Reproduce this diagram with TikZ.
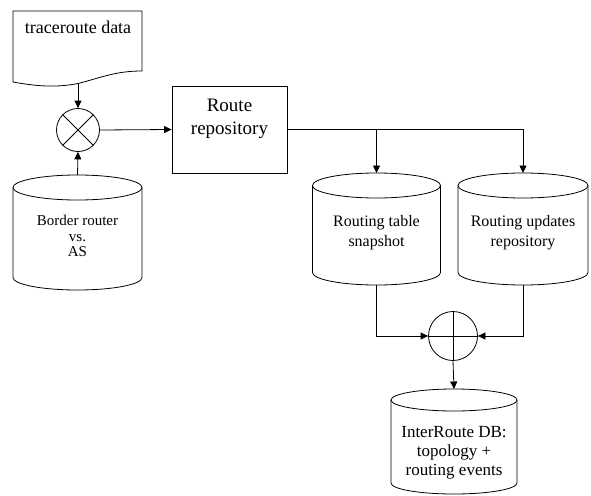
\documentclass[tikz,border=0pt]{standalone}
\usepackage{fontspec}
\setmainfont{Liberation Serif}
\usetikzlibrary{arrows.meta}
\tikzset{
  every path/.style={line width=0.8pt},
  conn/.style={line width=0.8pt,-{Triangle[length=7.5pt,width=7pt]}},
  shapebox/.style={draw,line width=0.8pt,inner sep=0pt},
  hidden/.style={inner sep=0pt,outer sep=0pt},
  lbl/.style={align=center,inner sep=0pt},
}
\newcommand\dbcylinder[3]{%
  \draw ([yshift=-#3]#1.north) ellipse[x radius=#2, y radius=#3];
  \draw ([yshift=-#3]#1.north west) -- ([yshift=#3]#1.south west)
     arc[start angle=180,end angle=360,x radius=#2,y radius=#3]
     -- ([yshift=-#3]#1.north east);
}
\begin{document}
\begin{tikzpicture}[x=1pt,y=-1pt]
\useasboundingbox (0,0) rectangle (591,495);
% document shape
\coordinate (docbot) at (78,83.5);
\draw (13,11) -- (142,11) -- (142,71)
   .. controls (115,71) and (100,78) .. (docbot)
   .. controls (55,88) and (35,86) .. (13,82) -- cycle;
\node[lbl,font=\fontsize{18}{20}\selectfont] (trace) at (78,27.5) {traceroute data};
% join circle (x)
\node[shapebox,circle,minimum size=43pt] (xc) at (78,130) {};
\draw (xc.north east) -- (xc.south west) (xc.north west) -- (xc.south east);
% route repository
\node[shapebox,rectangle,minimum width=115pt,minimum height=87pt] (route) at (229.5,129.5) {};
\node[lbl,font=\fontsize{19}{23}\selectfont] (routetxt) at (229.5,119) {Route\\repository};
% border router cylinder
\node[hidden,minimum width=129pt,minimum height=115pt] (border) at (77.5,232.5) {};
\dbcylinder{border}{64.5pt}{12.5pt}
\node[lbl,font=\fontsize{15}{15.5}\selectfont] (bordertxt) at (77.5,236) {Border router\\vs.\\AS};
% routing table snapshot
\node[hidden,minimum width=128pt,minimum height=112pt] (rts) at (376.5,229) {};
\dbcylinder{rts}{64pt}{12.5pt}
\node[lbl,font=\fontsize{16}{20}\selectfont] (rtstxt) at (376.5,233) {Routing table\\snapshot};
% routing updates repository
\node[hidden,minimum width=130pt,minimum height=112pt] (rur) at (523,229) {};
\dbcylinder{rur}{65pt}{12.5pt}
\node[lbl,font=\fontsize{16}{20}\selectfont] (rurtxt) at (523,233) {Routing updates\\repository};
% sum circle (+)
\node[shapebox,circle,minimum size=49pt] (pc) at (453,336) {};
\draw (pc.north) -- (pc.south) (pc.west) -- (pc.east);
% interroute db
\node[hidden,minimum width=126pt,minimum height=105pt] (irdb) at (454,441.5) {};
\dbcylinder{irdb}{63pt}{11pt}
\node[lbl,font=\fontsize{17}{19}\selectfont] (irdbtxt) at (454,452.5) {InterRoute DB:\\topology +\\routing events};
% connectors
\draw[conn] (docbot) -- (xc.north);
\draw[conn] (border.north) -- (xc.south);
\draw[conn] (xc.east) -- (route.west);
\draw[conn] (route.east) -| (rts.north);
\draw[conn] (route.east) -| (rur.north);
\draw[conn] (rts.south) |- (pc.west);
\draw[conn] (rur.south) |- (pc.east);
\draw[conn] (pc.south) -- (irdb.north);
\end{tikzpicture}
\end{document}
